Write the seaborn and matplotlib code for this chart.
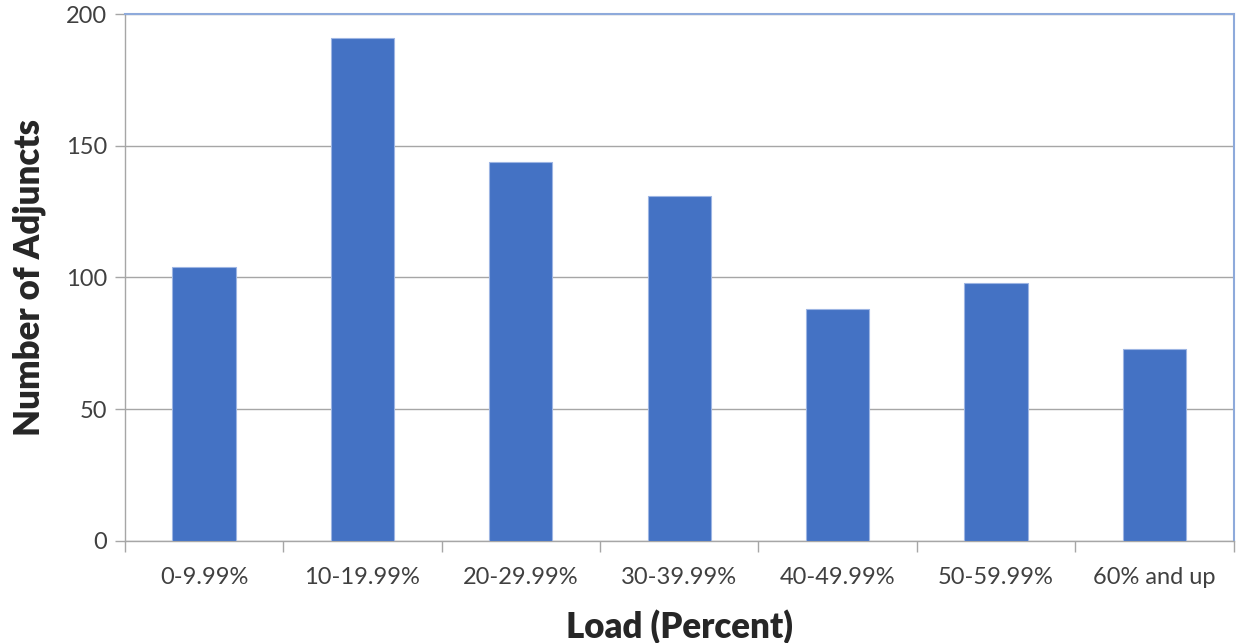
import pandas as pd
import matplotlib
matplotlib.use('Agg')
import matplotlib.pyplot as plt
import seaborn as sns

# Данные
load_bins = ['0-9.99%', '10-19.99%', '20-29.99%', '30-39.99%',
             '40-49.99%', '50-59.99%', '60% and up']
adjunct_counts = [104, 191, 144, 131, 88, 98, 73]
y_ticks = [0, 50, 100, 150, 200]

data = pd.DataFrame({'load': load_bins, 'count': adjunct_counts})

sns.set_style('white')
plt.rcParams['font.family'] = ['Lato', 'DejaVu Sans']

fig = plt.figure(figsize=(12.36, 6.43), dpi=100)
ax = fig.add_axes([0.101, 0.159, 0.897, 0.819])

sns.barplot(data=data, x='load', y='count', color='#4472c4', width=0.4,
            saturation=1, edgecolor='#9db5e3', linewidth=0.8, ax=ax, zorder=3)

ax.set_ylim(0, 200)
ax.set_xlim(-0.5, len(load_bins) - 0.5)
ax.set_yticks(y_ticks)
ax.set_yticklabels([str(v) for v in y_ticks], fontsize=17, color='#404040')
ax.yaxis.grid(True, color='#a6a6a6', linewidth=1, zorder=0)

# подписи категорий по центру, засечки на границах
ax.set_xticks([i + 0.5 for i in range(-1, len(load_bins))])
ax.set_xticklabels([])
ax.set_xticks(range(len(load_bins)), minor=True)
ax.set_xticklabels(load_bins, minor=True, fontsize=17, color='#404040')
ax.tick_params(axis='x', which='major', length=8, width=1, color='#a6a6a6', direction='out', bottom=True)
ax.tick_params(axis='x', which='minor', length=0, pad=19)
ax.tick_params(axis='y', length=7, width=1, color='#a6a6a6', direction='out', left=True, pad=6)

for side in ['left', 'bottom']:
    ax.spines[side].set_color('#a6a6a6')
    ax.spines[side].set_linewidth(1)
for side in ['top', 'right']:
    ax.spines[side].set_visible(True)
    ax.spines[side].set_color('#8eaadb')
    ax.spines[side].set_linewidth(1.5)

ax.set_xlabel('Load (Percent)', fontsize=25, fontweight='heavy', labelpad=15)
ax.set_ylabel('Number of Adjuncts', fontsize=25, fontweight='heavy', labelpad=14)

fig.savefig('out.png', dpi=100)
